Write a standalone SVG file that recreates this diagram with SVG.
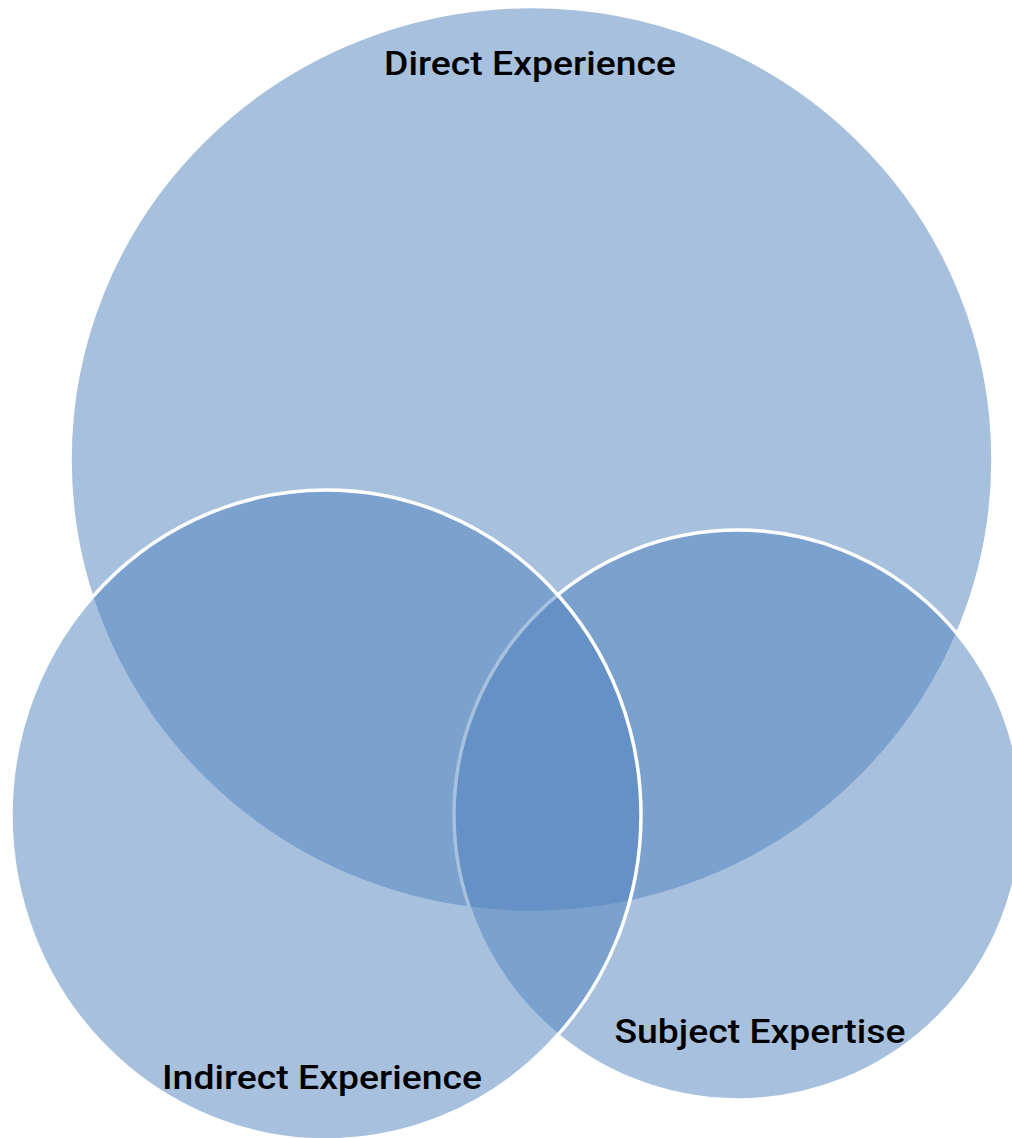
<svg xmlns="http://www.w3.org/2000/svg" width="1012" height="1138" viewBox="0 0 1012 1138">
<style>
.c{fill:#4F81BD;fill-opacity:0.5;stroke:#FFFFFF;stroke-width:3.5}
.t{font-family:"Roboto","Liberation Sans",sans-serif;font-weight:500;font-size:34px;fill:#000000;text-anchor:middle}
</style>
<rect x="0" y="0" width="1012" height="1138" fill="#FFFFFF"/>
<g id="direct">
<ellipse class="c" cx="531.5" cy="459.5" rx="461.5" ry="453"/>
<text class="t" x="530" y="75" textLength="292" lengthAdjust="spacingAndGlyphs">Direct Experience</text>
</g>
<g id="subject">
<ellipse class="c" cx="738" cy="815" rx="284" ry="285"/>
<text class="t" x="760" y="1043" textLength="291" lengthAdjust="spacingAndGlyphs">Subject Expertise</text>
</g>
<g id="indirect">
<ellipse class="c" cx="326" cy="815" rx="315" ry="325"/>
<text class="t" x="322" y="1089" textLength="320" lengthAdjust="spacingAndGlyphs">Indirect Experience</text>
</g>
<g id="connectors"></g>
</svg>
